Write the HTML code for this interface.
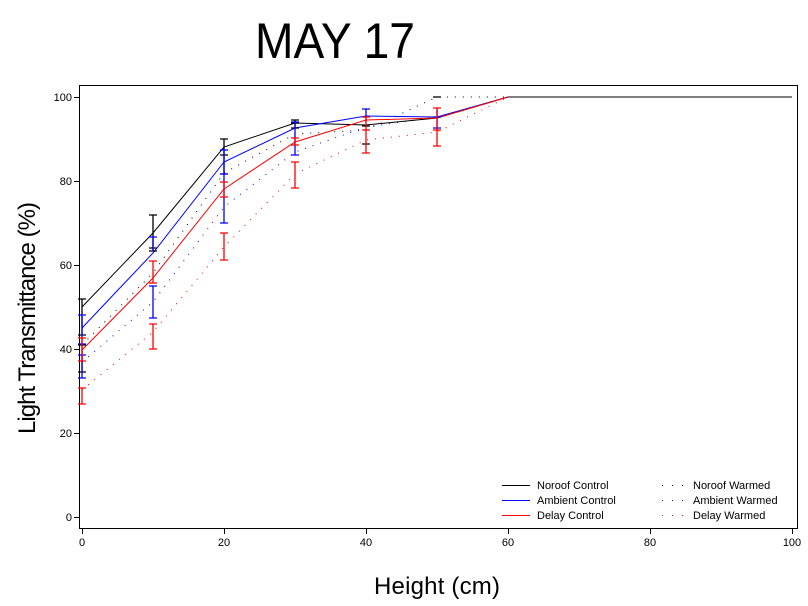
<!DOCTYPE html>
<html><head><style>
body{margin:0;background:#fff}
svg{display:block}
text{font-family:"Liberation Sans",Arial,sans-serif}
</style></head><body>
<svg width="808" height="606" viewBox="0 0 808 606">
<rect x="0" y="0" width="808" height="606" fill="#fff"/>
<text x="335" y="58" font-size="50" text-anchor="middle" textLength="160" lengthAdjust="spacingAndGlyphs">MAY  17</text>
<rect x="79.5" y="85.5" width="718" height="443" fill="none" stroke="#000" stroke-width="1"/>
<g stroke="#000" stroke-width="1">
<line x1="74" y1="97.5" x2="79.5" y2="97.5"/><line x1="74" y1="181.5" x2="79.5" y2="181.5"/>
<line x1="74" y1="265.5" x2="79.5" y2="265.5"/><line x1="74" y1="349.5" x2="79.5" y2="349.5"/>
<line x1="74" y1="433.5" x2="79.5" y2="433.5"/><line x1="74" y1="517.5" x2="79.5" y2="517.5"/>
<line x1="82.5" y1="528.5" x2="82.5" y2="534"/><line x1="224.5" y1="528.5" x2="224.5" y2="534"/>
<line x1="366.5" y1="528.5" x2="366.5" y2="534"/><line x1="508.5" y1="528.5" x2="508.5" y2="534"/>
<line x1="650.5" y1="528.5" x2="650.5" y2="534"/><line x1="792.5" y1="528.5" x2="792.5" y2="534"/>
</g>
<g font-size="11" text-anchor="end">
<text x="72" y="101">100</text><text x="72" y="185">80</text><text x="72" y="269">60</text>
<text x="72" y="353">40</text><text x="72" y="437">20</text><text x="72" y="521">0</text>
</g>
<g font-size="11" text-anchor="middle">
<text x="82" y="546">0</text><text x="224" y="546">20</text><text x="366" y="546">40</text>
<text x="508" y="546">60</text><text x="650" y="546">80</text><text x="792" y="546">100</text>
</g>
<text x="437" y="594" font-size="24" text-anchor="middle" textLength="126" lengthAdjust="spacing">Height  (cm)</text>
<text transform="translate(35,318) rotate(-90)" font-size="24" text-anchor="middle" textLength="232" lengthAdjust="spacing">Light  Transmittance  (%)</text>

<g fill="none" stroke-width="1">
<polyline stroke="#000" points="82,345 153,273 224,173 295,134 366,130 437,97 792,97" stroke-dasharray="1,7"/>
<polyline stroke="#00f" points="82,362 153,302 224,207 295,152 366,127 437,117 508,97 792,97" stroke-dasharray="1,7"/>
<polyline stroke="#f00" points="82,390 153,332 224,247 295,174 366,140 437,132 508,97 792,97" stroke-dasharray="1,7"/>
<polyline stroke="#000" points="82,307 153,233 224,147 295,123 366,125 437,118 508,97 792,97"/>
<polyline stroke="#00f" points="82,328 153,253 224,162 295,128 366,116 437,117 508,97"/>
<polyline stroke="#f00" points="82,350 153,278 224,189 295,142 366,120 437,118 508,97"/>
</g>
<g stroke-width="1.3" fill="none">
<path stroke="#000" d="M82,299V335M78,299H86M78,335H86M82,345V372M78,345H86M78,372H86"/>
<path stroke="#00f" d="M82,315V344M78,315H86M78,344H86M82,355V378M78,355H86M78,378H86"/>
<path stroke="#f00" d="M82,338V361M78,338H86M78,361H86M82,388V404M78,388H86M78,404H86"/>
<path stroke="#000" d="M153,215V251M149,215H157M149,248H157M149,251H157"/>
<path stroke="#00f" d="M153,237V251M149,237H157M153,286V318M149,286H157M149,318H157"/>
<path stroke="#f00" d="M153,261V283M149,261H157M149,283H157M153,324V349M149,324H157M149,349H157"/>
<path stroke="#000" d="M224,139V174M220,139H228M220,155H228M220,174H228"/>
<path stroke="#00f" d="M224,150V223M220,150H228M220,174H228M220,223H228"/>
<path stroke="#f00" d="M224,182V197M220,182H228M220,197H228M224,233V260M220,233H228M220,260H228"/>
<path stroke="#000" d="M295,120V128M291,120H299M291,123H299M291,128H299"/>
<path stroke="#00f" d="M295,122V155M291,122H299M291,155H299"/>
<path stroke="#f00" d="M295,138V145M291,138H299M291,145H299M295,162V188M291,162H299M291,188H299"/>
<path stroke="#00f" d="M366,109V122M362,109H370"/>
<path stroke="#000" d="M362,126H370M362,144H370"/>
<path stroke="#f00" d="M366,117V153M362,117H370M362,130H370M362,153H370"/>
<path stroke="#000" d="M433,97H441"/>
<path stroke="#00f" d="M437,109V130M433,117H441M433,128H441"/>
<path stroke="#f00" d="M437,108V146M433,108H441M433,130H441M433,146H441"/>
</g>

<rect x="502" y="485" width="28" height="1" fill="#000"/>
<rect x="502" y="500" width="28" height="1" fill="#00f"/>
<rect x="502" y="515" width="28" height="1" fill="#f00"/>
<g>
<rect x="662" y="485" width="1" height="1" fill="#000"/><rect x="672" y="485" width="1" height="1" fill="#000"/><rect x="682" y="485" width="1" height="1" fill="#000"/>
<rect x="662" y="500" width="1" height="1" fill="#00f"/><rect x="672" y="500" width="1" height="1" fill="#00f"/><rect x="682" y="500" width="1" height="1" fill="#00f"/>
<rect x="662" y="515" width="1" height="1" fill="#f00"/><rect x="672" y="515" width="1" height="1" fill="#f00"/><rect x="682" y="515" width="1" height="1" fill="#f00"/>
</g>
<g font-size="11">
<text x="537" y="489">Noroof Control</text>
<text x="537" y="504">Ambient Control</text>
<text x="537" y="519">Delay Control</text>
<text x="693" y="489">Noroof Warmed</text>
<text x="693" y="504">Ambient Warmed</text>
<text x="693" y="519">Delay Warmed</text>
</g>
</svg>
</body></html>
